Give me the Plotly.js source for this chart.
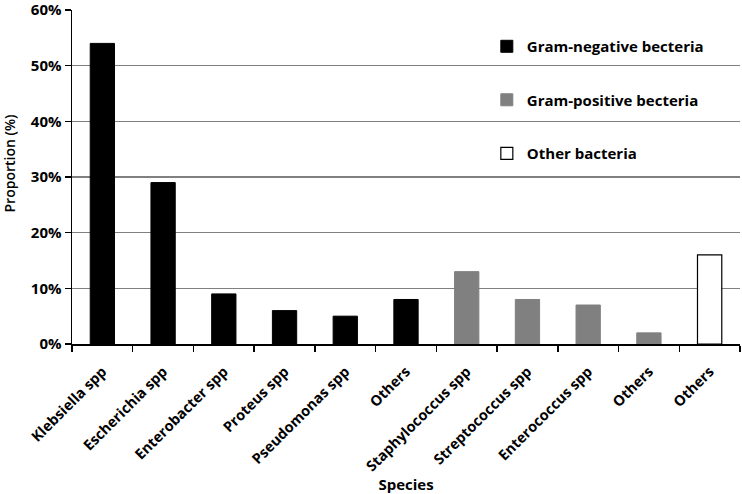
<!DOCTYPE html>
<html>
<head>
<meta charset="utf-8">
<script src="https://cdn.plot.ly/plotly-3.0.1.min.js"></script>
<style>html,body{margin:0;padding:0;background:#fff;}#chart{width:742px;height:494px;}</style>
</head>
<body>
<div id="chart"></div>
<script>
const categories = ["Klebsiella spp","Escherichia spp","Enterobacter spp","Proteus spp","Pseudomonas spp","Others",
  "Staphylococcus spp","Streptococcus spp","Enterococcus spp","Others","Others"];
const gramNegIdx = [0,1,2,3,4,5];
const gramNegVals = [54,29,9,6,5,8];
const gramPosIdx = [6,7,8,9];
const gramPosVals = [13,8,7,2];
const otherIdx = [10];
const otherVals = [16];
const yTicks = [0,10,20,30,40,50,60];

const fam = "Open Sans, Liberation Sans, sans-serif";
const bold = {family:fam, size:14.5, weight:700, color:"#000"};

const traces = [
  {type:"bar", x:gramNegIdx, y:gramNegVals, name:"Gram-negative becteria", width:0.4,
   marker:{color:"#000", line:{color:"#000", width:1}}, legendgroup:"a"},
  {type:"bar", x:gramPosIdx, y:gramPosVals, name:"Gram-positive becteria", width:0.4,
   marker:{color:"#808080", line:{color:"#808080", width:1}}, legendgroup:"b"},
  {type:"bar", x:otherIdx, y:otherVals, name:"Other bacteria", width:0.4,
   marker:{color:"#fff", line:{color:"#000", width:1.2}}, legendgroup:"c"}
];

const layout = {
  width:742, height:494,
  margin:{l:72, r:2, t:10, b:150},
  paper_bgcolor:"#fff", plot_bgcolor:"#fff",
  barmode:"overlay",
  font:bold,
  showlegend:true,
  legend:{x:0.621, y:0.94, xanchor:"left", yanchor:"top", bgcolor:"rgba(0,0,0,0)",
          tracegroupgap:31, font:{family:fam, size:15, weight:700, color:"#000"}},
  xaxis:{
    range:[-0.5,10.5], tickmode:"array",
    tickvals:categories.map((c,i)=>i), ticktext:categories,
    tickangle:-45, ticks:"outside", ticklen:12, tickcolor:"rgba(0,0,0,0)",
    showgrid:false, zeroline:false,
    showline:true, linecolor:"#000", linewidth:1.5,
    tickfont:bold,
    minor:{tick0:-0.5, dtick:1, ticks:"outside", ticklen:6, tickcolor:"#000", tickwidth:1.5, showgrid:false},
    title:{text:"Species", font:{family:fam, size:15, weight:700, color:"#000"}, standoff:4}
  },
  yaxis:{
    range:[0,60], tickmode:"array", tickvals:yTicks, ticktext:yTicks.map(v=>v+"%"),
    ticks:"outside", ticklen:6, tickcolor:"#000", tickwidth:1.5,
    ticklabeloverflow:"allow",
    showline:true, linecolor:"#000", linewidth:1.5,
    showgrid:true, gridcolor:"#808080", gridwidth:1.5, zeroline:false,
    tickfont:{family:fam, size:15, weight:700, color:"#000"}
  },
  annotations:[{
    text:"Proportion (%)", textangle:-90, showarrow:false,
    xref:"paper", yref:"paper", x:-0.093, y:0.54, xanchor:"center", yanchor:"middle",
    font:{family:fam, size:14, weight:600, color:"#000"}
  }]
};

Plotly.newPlot("chart", traces, layout, {displayModeBar:false, staticPlot:true});
</script>
</body>
</html>
